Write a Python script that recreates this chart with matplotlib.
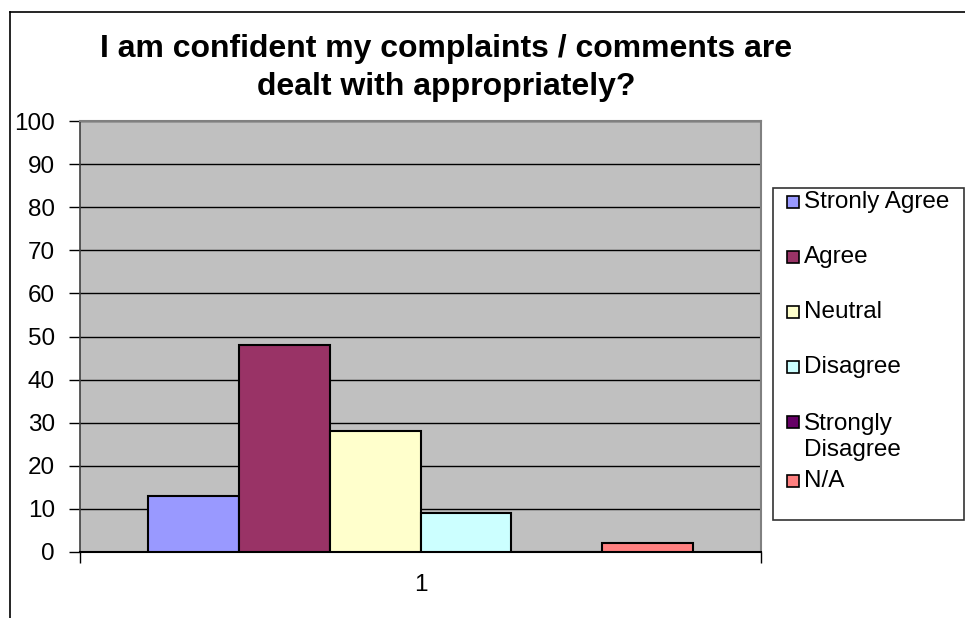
import matplotlib
matplotlib.use("Agg")
import matplotlib.pyplot as plt
from matplotlib.lines import Line2D
from matplotlib.patches import Rectangle

# survey answers (percent)
categories = ["Stronly Agree", "Agree", "Neutral", "Disagree", "Strongly\nDisagree", "N/A"]
values = [13, 48, 28, 9, 0, 2]
colors = ["#9999FF", "#993366", "#FFFFCC", "#CCFFFF", "#660066", "#FF8080"]
group_label = "1"
y_ticks = list(range(0, 101, 10))
title = "I am confident my complaints / comments are\ndealt with appropriately?"

W, H = 965, 618
plt.rcParams["font.family"] = ["Liberation Sans", "DejaVu Sans"]

fig = plt.figure(figsize=(W / 100, H / 100), dpi=100)


def px(x, y):
    """pixel position (from top-left) -> figure fraction"""
    return x / W, 1 - y / H


# plot area
ax = fig.add_axes([80 / W, (H - 552) / H, 681 / W, 431 / H])
ax.set_facecolor("#C0C0C0")

n = len(values)
group_w = 0.8
bw = group_w / n
xs = [-group_w / 2 + bw * (i + 0.5) for i in range(n)]
ax.bar(xs, values, width=bw, color=colors, edgecolor="black", linewidth=1.5, zorder=3)

ax.set_xlim(-0.5, 0.5)
ax.set_ylim(0, 100)
ax.set_yticks(y_ticks)
ax.yaxis.grid(True, color="black", linewidth=1.0, zorder=1)
ax.set_axisbelow(True)
ax.tick_params(axis="y", direction="out", length=8, width=1, pad=10, labelsize=17.5)

ax.set_xticks([0])
ax.set_xticklabels([group_label])
ax.set_xticks([-0.5, 0.5], minor=True)
ax.tick_params(axis="x", which="major", length=0, pad=16, labelsize=17.5)
ax.tick_params(axis="x", which="minor", direction="out", length=8, width=1)

for side in ("top", "right"):
    ax.spines[side].set_color("#808080")
    ax.spines[side].set_linewidth(1.5)
ax.spines["left"].set_color("#404040")
ax.spines["bottom"].set_color("black")
ax.spines["left"].set_linewidth(1.2)
ax.spines["bottom"].set_linewidth(1.5)

# title
tx, ty = px(446, 68)
fig.text(tx, ty, title, ha="center", va="center", fontsize=23, fontweight="bold",
         linespacing=1.38)

# chart border (only top and left visible)
x0, y0 = px(10, 12)
x1, y1 = px(W, H)
fig.add_artist(Line2D([x0, x1], [y0, y0], transform=fig.transFigure, color="black", lw=1.2))
fig.add_artist(Line2D([x0, x0], [y0, y1], transform=fig.transFigure, color="black", lw=1.2))

# legend
lx, ly = px(773, 520)
fig.add_artist(Rectangle((lx, ly), 191 / W, 332 / H, transform=fig.transFigure,
                         facecolor="white", edgecolor="#333333", lw=1.2))
entry_y = [202, 257, 312, 367, 437, 481]
for lab, col, yy in zip(categories, colors, entry_y):
    marker_y = yy if "\n" not in lab else yy - 15
    mx, my = px(787, marker_y + 6)
    fig.add_artist(Rectangle((mx, my), 12 / W, 12 / H, transform=fig.transFigure,
                             facecolor=col, edgecolor="black", lw=1.2))
    fx, fy = px(804, yy)
    fig.text(fx, fy, lab, ha="left", va="center", fontsize=17.5, linespacing=1.25)

fig.savefig("out.png", dpi=100)
